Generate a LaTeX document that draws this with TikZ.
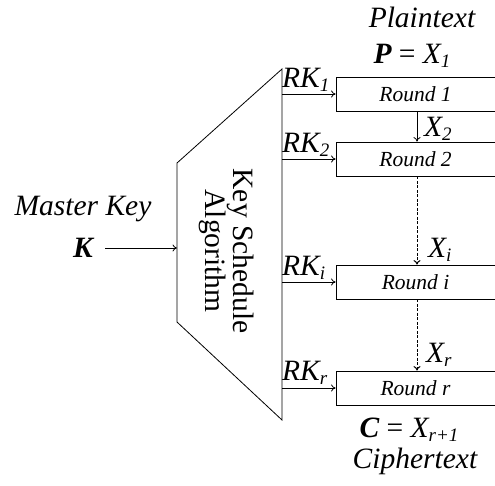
\documentclass[tikz,border=0pt]{standalone}
\usepackage{fontspec}
\setmainfont{Liberation Serif}
\usetikzlibrary{arrows.meta}
\newcommand\mysub[1]{\raisebox{-0.15em}{\fontsize{19}{20}\selectfont\itshape #1}}
\tikzset{
  lbl/.style={inner sep=0pt, font=\fontsize{29.5}{32}\selectfont\itshape},
  ksa/.style={inner sep=0pt, rotate=-90, anchor=base, font=\fontsize{29.5}{32}\selectfont},
  rbox/.style={draw, line width=0.8pt, minimum width=159pt, minimum height=34pt, inner sep=0pt,
    font=\fontsize{21.5}{23}\selectfont\itshape},
  conn/.style={line width=0.8pt, -{To[length=4.5pt,width=7pt]}},
  dconn/.style={conn, line width=1pt, dash pattern=on 3pt off 1.5pt},
}
\begin{document}
\begin{tikzpicture}[x=1pt,y=-1pt]
\useasboundingbox (0,0) rectangle (495,485);
\clip (0,0) rectangle (495,485);
% key schedule trapezoid
\coordinate (ttop) at (282,69);
\coordinate (tbot) at (282,420);
\coordinate (kin) at (177,248);
\draw[line width=0.8pt] (ttop) -- (177,163) -- (177,322) -- (tbot) -- cycle;
\node[ksa] (ks1) at (233,251) {Key Schedule};
\node[ksa] (ks2) at (205,251) {Algorithm};
% master key
\node[lbl, anchor=base] (mk) at (83,215) {Master Key};
\node[lbl, anchor=base] (k) at (83,257) {\bfseries K};
\draw[conn] ([xshift=12pt]k.east |- kin) -- (kin);
% round boxes
\node[rbox] (r1) at (415.5,94) {Round 1};
\node[rbox] (r2) at (415.5,159) {Round 2};
\node[rbox] (ri) at (415.5,282) {Round i};
\node[rbox] (rr) at (415.5,388) {Round r};
% round keys
\foreach \b in {r1,r2,ri,rr}{
  \draw[conn] (\b.west -| ttop) -- (\b.west);
}
\node[lbl, anchor=base west] (rk1) at (282,87) {RK\mysub{1}};
\node[lbl, anchor=base west] (rk2) at (282,152) {RK\mysub{2}};
\node[lbl, anchor=base west] (rki) at (282,275) {RK\mysub{i}};
\node[lbl, anchor=base west] (rkr) at (282,380) {RK\mysub{r}};
% data flow
\draw[conn] ([xshift=1.5pt]r1.south) -- ([xshift=1.5pt]r2.north);
\draw[dconn] ([xshift=1.5pt]r2.south) -- ([xshift=1.5pt]ri.north);
\draw[dconn] ([xshift=1.5pt]ri.south) -- ([xshift=1.5pt]rr.north);
\node[lbl, anchor=base west] (x2) at (424,136) {X\mysub{2}};
\node[lbl, anchor=base west] (xi) at (428,257) {X\mysub{i}};
\node[lbl, anchor=base west] (xr) at (426,362) {X\mysub{r}};
% plaintext / ciphertext
\node[lbl, anchor=base] (pt) at (422,27) {Plaintext};
\node[lbl, anchor=base] (px) at (412,63) {\bfseries P\mdseries\upshape{} = \itshape X\mysub{1}};
\node[lbl, anchor=base] (cx) at (409,437) {\bfseries C\mdseries\upshape{} = \itshape X\mysub{r+1}};
\node[lbl, anchor=base] (ct) at (415,468) {Ciphertext};
\end{tikzpicture}
\end{document}
